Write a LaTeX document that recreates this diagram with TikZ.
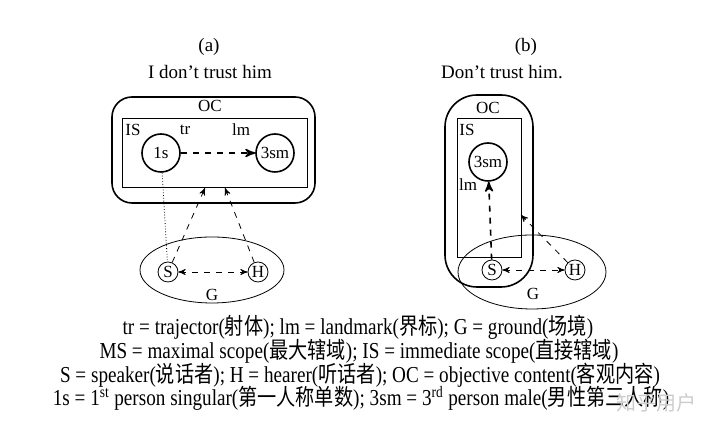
\documentclass[tikz,border=0pt]{standalone}
\usepackage{fontspec}
\setmainfont{Liberation Serif}
\newfontfamily\cjk{Noto Sans CJK SC}
\usetikzlibrary{arrows,positioning,calc}
\newcommand{\keyline}[1]{\scalebox{0.84}[1]{\fontsize{11.4}{12}\selectfont #1}}

\begin{document}
\begin{tikzpicture}[x=0.5pt, y=-0.5pt, font=\fontsize{8.5}{10}\selectfont,
    ent/.style={draw, circle, thick, minimum size=19pt, inner sep=0pt},
    small/.style={draw, circle, minimum size=10pt, inner sep=0pt},
    bigarr/.style={->, >=stealth', dashed, thick},
    thinarr/.style={->, >=stealth', dashed},
    lbl/.style={inner sep=1pt},
    head/.style={inner sep=1pt, font=\fontsize{9.5}{11}\selectfont}]
    \useasboundingbox (0,0) rectangle (720,431);
    % panel (a)
    \node[head] (ta) at (209,47) {(a)};
    \node[head] (sa) at (210,72) {I don't trust him};
    \draw[thick, rounded corners=10pt] (112,97) rectangle (315,203);
    \draw (122,118) rectangle (307,187);
    \node[lbl] (oca) at (210,106) {OC};
    \node[lbl] (isa) at (133,130) {IS};
    \node[lbl] (tra) at (185,130) {tr};
    \node[lbl] (lma) at (241,130) {lm};
    \node[ent] (one) at (161,153) {1s};
    \node[ent] (thr) at (275,153) {3sm};
    \draw[bigarr] (one) -- (thr);
    \draw (212,270) ellipse (72 and 33);
    \node[small] (sp) at (168,272) {S};
    \node[small] (hr) at (258,272) {H};
    \node[lbl] (ga) at (212,295) {G};
    \coordinate (ia) at (205,188);
    \coordinate (ib) at (225,188);
    \draw[densely dotted] (one) -- (sp);
    \draw[thinarr] (sp) -- (ia);
    \draw[thinarr] (hr) -- (ib);
    \draw[<->, >=stealth', dashed] (sp) -- (hr);

    % panel (b)
    \node[head] (tb) at (526,47) {(b)};
    \node[head] (sb) at (502,72) {Don't trust him.};
    \draw[thick, rounded corners=16pt] (445,95) rectangle (533,287);
    \draw (457,118) rectangle (521,257);
    \node[lbl] (ocb) at (488,108) {OC};
    \node[lbl] (isb) at (467,130) {IS};
    \node[lbl] (lmb) at (468,185) {lm};
    \node[ent] (thb) at (488,162) {3sm};
    \draw (532,272) ellipse (74 and 37);
    \node[small] (spb) at (492,270) {S};
    \node[small] (hrb) at (575,270) {H};
    \node[lbl] (gb) at (533,294) {G};
    \coordinate (ic) at (521,215);
    \draw[bigarr] (spb) -- (thb);
    \draw[thinarr] (hrb) -- (ic);
    \draw[<->, >=stealth', dashed] (spb) -- (hrb);

    % key
    \node[lbl] (k1) at (358,327) {\keyline{tr = trajector({\cjk 射体}); lm = landmark({\cjk 界标}); G = ground({\cjk 场境})}};
    \node[lbl] (k2) at (359,351) {\keyline{MS = maximal scope({\cjk 最大辖域}); IS = immediate scope({\cjk 直接辖域})}};
    \node[lbl] (k3) at (360,375) {\keyline{S = speaker({\cjk 说话者}); H = hearer({\cjk 听话者}); OC = objective content({\cjk 客观内容})}};
    \node[lbl] (k4) at (361,398) {\keyline{1s = 1\textsuperscript{st} person singular({\cjk 第一人称单数}); 3sm = 3\textsuperscript{rd} person male({\cjk 男性第三人称})}};
    \node[lbl, text=gray!40, font=\cjk\fontsize{10}{11}\selectfont] (wm) at (657,403) {知乎用户};
\end{tikzpicture}
\end{document}
